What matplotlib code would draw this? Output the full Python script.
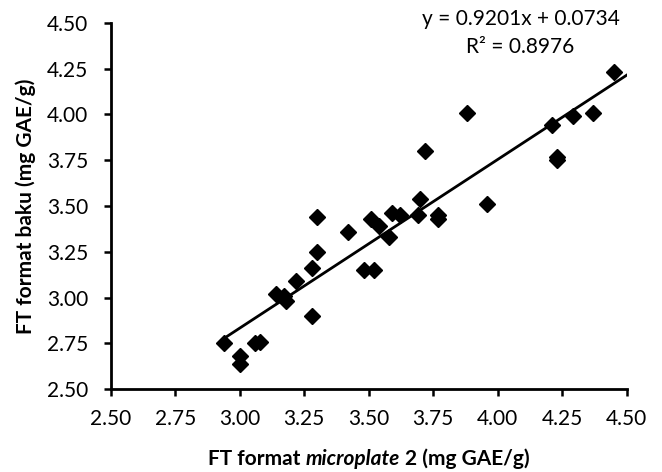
import matplotlib
matplotlib.use("Agg")
import matplotlib.pyplot as plt
from matplotlib.ticker import FormatStrFormatter

plt.rcParams["font.family"] = ["Lato", "DejaVu Sans"]

# data
x_microplate = [2.94, 3.00, 3.00, 3.06, 3.08, 3.14, 3.17, 3.18, 3.22, 3.28,
                3.28, 3.30, 3.30, 3.42, 3.48, 3.52, 3.51, 3.54, 3.58, 3.59,
                3.62, 3.69, 3.70, 3.72, 3.77, 3.77, 3.88, 3.96, 4.21, 4.23,
                4.23, 4.29, 4.37, 4.45]
y_baku = [2.75, 2.68, 2.64, 2.75, 2.76, 3.02, 3.01, 2.98, 3.09, 3.16,
          2.90, 3.25, 3.44, 3.36, 3.15, 3.15, 3.43, 3.39, 3.33, 3.46,
          3.45, 3.45, 3.54, 3.80, 3.45, 3.43, 4.01, 3.51, 3.94, 3.77,
          3.75, 3.99, 4.01, 4.23]
slope = 0.9201
intercept = 0.0734
r_squared = 0.8976
tick_vals = [2.50, 2.75, 3.00, 3.25, 3.50, 3.75, 4.00, 4.25, 4.50]

W, H = 662, 472
fig = plt.figure(figsize=(W / 100, H / 100), dpi=100)
ax = fig.add_axes([110.7 / W, 1 - 389.3 / H, 516 / W, 366.6 / H])

# titik data
ax.plot(x_microplate, y_baku, linestyle="none", marker="D", ms=8.5,
        color="black", zorder=3, clip_on=False)

# garis tren linear
x_line = [min(x_microplate), 4.5]
y_line = [slope * v + intercept for v in x_line]
ax.plot(x_line, y_line, color="black", lw=2, zorder=2)

ax.set_xlim(2.5, 4.5)
ax.set_ylim(2.5, 4.5)
ax.set_xticks(tick_vals)
ax.set_yticks(tick_vals)
ax.xaxis.set_major_formatter(FormatStrFormatter("%.2f"))
ax.yaxis.set_major_formatter(FormatStrFormatter("%.2f"))
for side in ["top", "right"]:
    ax.spines[side].set_visible(False)
for side in ["left", "bottom"]:
    ax.spines[side].set_linewidth(2)
ax.tick_params(direction="out", length=5, width=1.8, labelsize=15, colors="black")
ax.tick_params(axis="x", pad=9)
ax.tick_params(axis="y", pad=11)

# persamaan regresi
fig.text(521 / W, 1 - 19 / H, f"y = {slope:.4f}x + {intercept:.4f}",
         fontsize=15, ha="center", va="center")
fig.text(520 / W, 1 - 47 / H, f"R\u00b2 = {r_squared:.4f}",
         fontsize=15, ha="center", va="center")

# label sumbu y
fig.text(26 / W, 1 - 206 / H, "FT format baku (mg GAE/g)", fontsize=15,
         fontweight="bold", rotation=90, ha="center", va="center")

# label sumbu x dengan kata miring
parts = [("FT format", "normal"), ("microplate", "italic"), ("2 (mg GAE/g)", "normal")]
base_y = 1 - 465 / H
texts = [fig.text(0, base_y, s, fontsize=15, fontweight="bold", style=st,
                  ha="left", va="baseline") for s, st in parts]
probe1 = fig.text(0, 0, "a a", fontsize=15, fontweight="bold")
probe2 = fig.text(0, 0, "aa", fontsize=15, fontweight="bold")
fig.canvas.draw()
rend = fig.canvas.get_renderer()
space = probe1.get_window_extent(rend).width - probe2.get_window_extent(rend).width
probe1.remove()
probe2.remove()
widths = [t.get_window_extent(rend).width for t in texts]
total = sum(widths) + space * (len(widths) - 1)
x0 = 368.7 - total / 2
for t, w in zip(texts, widths):
    t.set_x(x0 / W)
    x0 += w + space

fig.savefig("out.png", dpi=100)
